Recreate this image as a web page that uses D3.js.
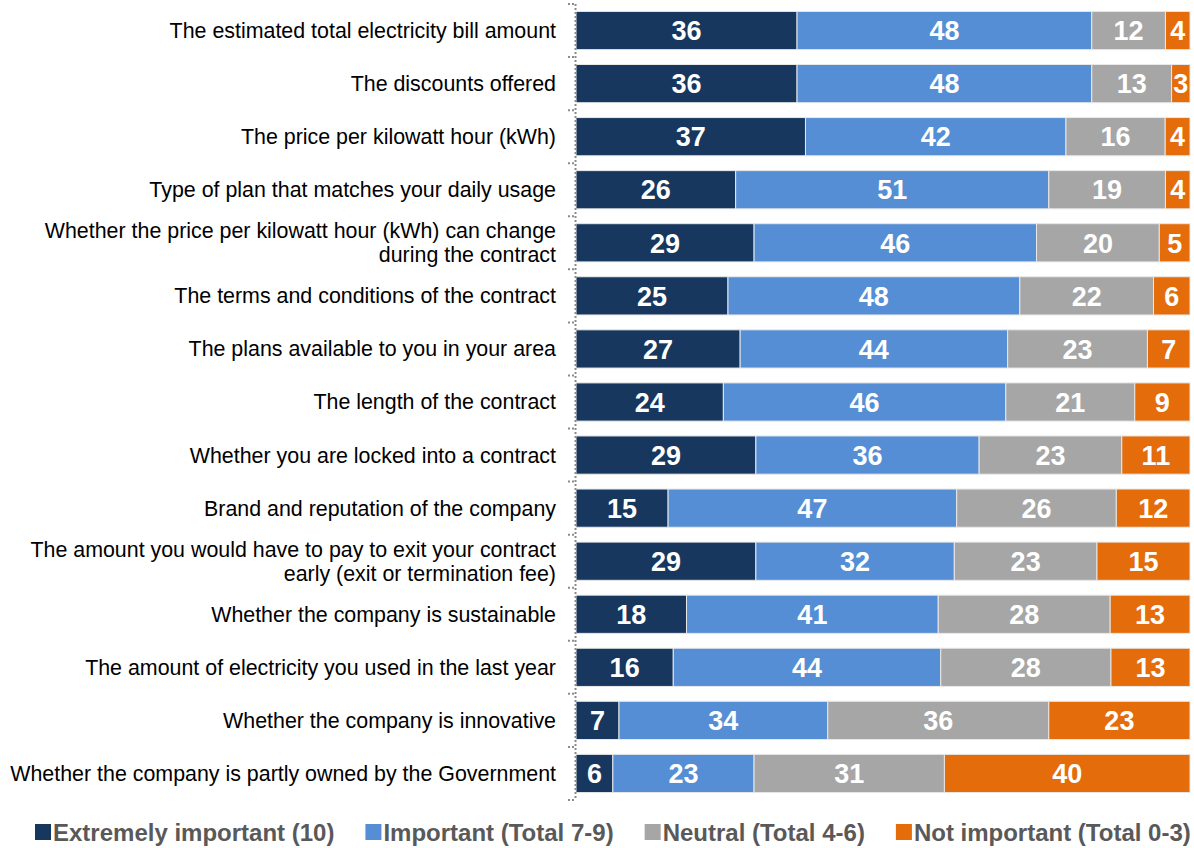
<!DOCTYPE html>
<html>
<head>
<meta charset="utf-8">
<script src="https://cdn.jsdelivr.net/npm/d3@7"></script>
<style>
  body { margin: 0; background: #fff; }
  svg { display: block; font-family: "Liberation Sans", Arial, sans-serif; }
</style>
</head>
<body>
<div id="chart"></div>
<script>
// Categories (top to bottom); "\n" marks a line break in the label
const categories = [
    "The estimated total electricity bill amount",
    "The discounts offered",
    "The price per kilowatt hour (kWh)",
    "Type of plan that matches your daily usage",
    "Whether the price per kilowatt hour (kWh) can change\nduring the contract",
    "The terms and conditions of the contract",
    "The plans available to you in your area",
    "The length of the contract",
    "Whether you are locked into a contract",
    "Brand and reputation of the company",
    "The amount you would have to pay to exit your contract\nearly (exit or termination fee)",
    "Whether the company is sustainable",
    "The amount of electricity you used in the last year",
    "Whether the company is innovative",
    "Whether the company is partly owned by the Government"
];

const extremely = [36, 36, 37, 26, 29, 25, 27, 24, 29, 15, 29, 18, 16, 7, 6];
const important = [48, 48, 42, 51, 46, 48, 44, 46, 36, 47, 32, 41, 44, 34, 23];
const neutral = [12, 13, 16, 19, 20, 22, 23, 21, 23, 26, 23, 28, 28, 36, 31];
const notImportant = [4, 3, 4, 4, 5, 6, 7, 9, 11, 12, 15, 13, 13, 23, 40];

const seriesKeys = ["extremely", "important", "neutral", "notImportant"];
const seriesNames = ["Extremely important (10)", "Important (Total 7-9)", "Neutral (Total 4-6)", "Not important (Total 0-3)"];
const seriesColors = ["#17375e", "#558ed5", "#a6a6a6", "#e46c0a"];

const data = categories.map((c, i) => ({
    category: c,
    extremely: extremely[i],
    important: important[i],
    neutral: neutral[i],
    notImportant: notImportant[i]
}));

const width = 1194;
const height = 848;
const margin = { top: 4, right: 4, bottom: 48, left: 576 };
const innerWidth = width - margin.left - margin.right;
const innerHeight = height - margin.top - margin.bottom;

// Rows are shown as shares of 100%, so each bar fills the full width
const stacked = d3.stack()
    .keys(seriesKeys)
    .offset(d3.stackOffsetExpand)(data);

const xScale = d3.scaleLinear().domain([0, 1]).range([0, innerWidth]);
const yScale = d3.scaleBand()
    .domain(categories)
    .range([0, innerHeight])
    .paddingInner(0.28)
    .paddingOuter(0.14);
const colorScale = d3.scaleOrdinal().domain(seriesKeys).range(seriesColors);

const svg = d3.select("#chart")
    .append("svg")
    .attr("width", width)
    .attr("height", height);

const innerChart = svg.append("g")
    .attr("transform", `translate(${margin.left},${margin.top})`);

// Bars
const layers = innerChart.selectAll("g.layer")
    .data(stacked)
    .join("g")
    .attr("class", "layer")
    .attr("fill", d => colorScale(d.key));

layers.selectAll("rect")
    .data(d => d)
    .join("rect")
    .attr("x", d => xScale(d[0]))
    .attr("y", d => yScale(d.data.category))
    .attr("width", d => xScale(d[1]) - xScale(d[0]))
    .attr("height", yScale.bandwidth())
    .attr("stroke", "#e8e8e8")
    .attr("stroke-width", 1);

// Value labels
layers.selectAll("text")
    .data(d => d.map(p => ({ p, key: d.key })))
    .join("text")
    .attr("x", d => (xScale(d.p[0]) + xScale(d.p[1])) / 2)
    .attr("y", d => yScale(d.p.data.category) + yScale.bandwidth() / 2)
    .attr("dy", "0.36em")
    .attr("text-anchor", "middle")
    .attr("fill", "#fff")
    .style("font-size", "27px")
    .style("font-weight", "bold")
    .text(d => d.p.data[d.key]);

// Category axis: dotted line with dotted ticks at band boundaries
const boundaries = d3.range(categories.length + 1).map(i => i * (innerHeight / categories.length));

innerChart.append("line")
    .attr("x1", -0.5).attr("x2", -0.5)
    .attr("y1", 0).attr("y2", innerHeight)
    .attr("stroke", "#8c8c8c")
    .attr("stroke-width", 2)
    .attr("stroke-dasharray", "2,2");

innerChart.selectAll("line.tick")
    .data(boundaries)
    .join("line")
    .attr("class", "tick")
    .attr("x1", -8).attr("x2", 0)
    .attr("y1", d => d).attr("y2", d => d)
    .attr("stroke", "#8c8c8c")
    .attr("stroke-width", 2)
    .attr("stroke-dasharray", "2,2");

// Category labels
const labels = innerChart.selectAll("text.cat")
    .data(categories)
    .join("text")
    .attr("class", "cat")
    .attr("text-anchor", "end")
    .attr("fill", "#000")
    .style("font-size", "21.4px");

labels.each(function(c) {
    const lines = c.split("\n");
    const cy = yScale(c) + yScale.bandwidth() / 2;
    const lh = 24;
    d3.select(this).selectAll("tspan")
        .data(lines)
        .join("tspan")
        .attr("x", -20)
        .attr("y", (d, i) => cy + (i - (lines.length - 1) / 2) * lh)
        .attr("dy", "0.35em")
        .text(d => d);
});

// Legend
const legend = svg.append("g")
    .attr("transform", `translate(35, 832)`);

let offset = 0;
seriesNames.forEach((name, i) => {
    const item = legend.append("g").attr("transform", `translate(${offset},0)`);
    item.append("rect")
        .attr("x", 0).attr("y", -8)
        .attr("width", 16).attr("height", 16)
        .attr("fill", seriesColors[i]);
    const t = item.append("text")
        .attr("x", 18)
        .attr("dy", "0.36em")
        .attr("fill", "#595959")
        .style("font-size", "24px")
        .style("font-weight", "bold")
        .text(name);
    offset += 18 + t.node().getComputedTextLength() + 31;
});
</script>
</body>
</html>
